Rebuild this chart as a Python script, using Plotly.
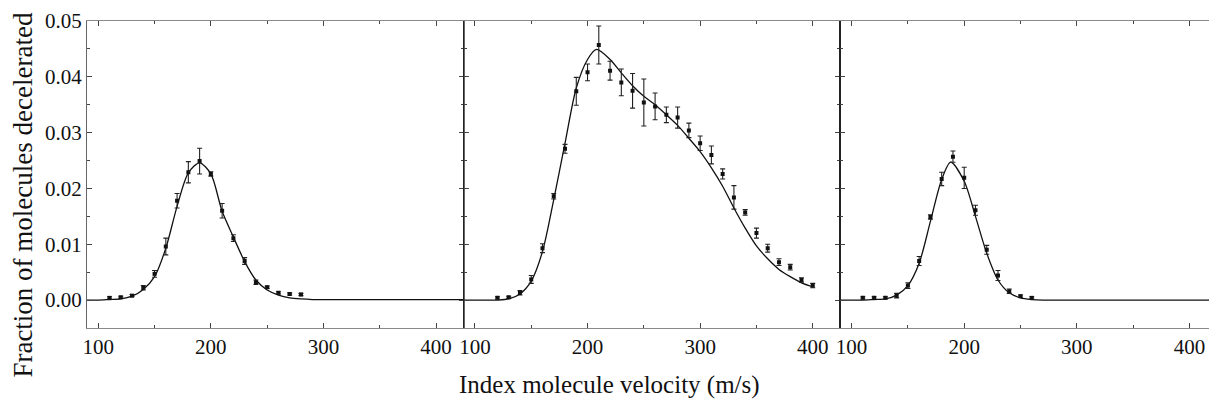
import plotly.graph_objects as go

# panel 1 (left)
v1 = [110, 120, 130, 140, 150, 160, 170, 180, 190, 200, 210, 220, 230, 240, 250, 260, 270, 280]
f1 = [0.0004, 0.0005, 0.0008, 0.0022, 0.0047, 0.0096, 0.0178, 0.0229, 0.0249, 0.0226,
      0.0160, 0.0111, 0.0070, 0.0032, 0.0023, 0.0013, 0.0011, 0.0010]
e1 = [0.0002, 0.0002, 0.0002, 0.0004, 0.0006, 0.0015, 0.0013, 0.0019, 0.0023, 0.0004,
      0.0013, 0.0006, 0.0006, 0.0004, 0.0002, 0.0002, 0.0002, 0.0002]
fit1_v = [90, 100, 110, 120, 130, 140, 150, 160, 170, 180, 190, 200, 210, 220, 230, 240,
          250, 260, 270, 280, 290, 300, 350, 400, 425]
fit1_f = [0.0, 0.0, 0.0001, 0.0002, 0.0007, 0.0019, 0.0042, 0.0093, 0.0168, 0.0228, 0.0246,
          0.0226, 0.0159, 0.0113, 0.0069, 0.0036, 0.0018, 0.0009, 0.0004, 0.0002, 0.0001,
          0.0001, 0.0001, 0.0001, 0.0001]

# panel 2 (middle)
v2 = [120, 130, 140, 150, 160, 170, 180, 190, 200, 210, 220, 230, 240, 250, 260, 270, 280,
      290, 300, 310, 320, 330, 340, 350, 360, 370, 380, 390, 400]
f2 = [0.0004, 0.0005, 0.0013, 0.0037, 0.0093, 0.0186, 0.0271, 0.0374, 0.0408, 0.0457, 0.0411,
      0.0390, 0.0375, 0.0354, 0.0347, 0.0332, 0.0327, 0.0304, 0.0281, 0.0260, 0.0226, 0.0184,
      0.0157, 0.0120, 0.0093, 0.0068, 0.0059, 0.0036, 0.0026]
e2 = [0.0002, 0.0002, 0.0004, 0.0007, 0.0008, 0.0005, 0.0008, 0.0025, 0.0015, 0.0034, 0.0017,
      0.0024, 0.0031, 0.0042, 0.0024, 0.0014, 0.0019, 0.0013, 0.0013, 0.0016, 0.0009, 0.0021,
      0.0005, 0.0009, 0.0007, 0.0006, 0.0005, 0.0004, 0.0004]
fit2_v = [90, 100, 110, 120, 130, 140, 150, 160, 170, 180, 190, 200, 208, 220, 230, 240, 250,
          260, 270, 280, 290, 300, 310, 320, 330, 340, 350, 360, 370, 380, 390, 400]
fit2_f = [0.0, 0.0, 0.0, 0.0, 0.0002, 0.0011, 0.0034, 0.0087, 0.0180, 0.0281, 0.0380, 0.0431,
          0.0449, 0.0431, 0.0407, 0.0384, 0.0365, 0.0350, 0.0332, 0.0313, 0.0290, 0.0266,
          0.0237, 0.0204, 0.0165, 0.0129, 0.0097, 0.0074, 0.0055, 0.0042, 0.0031, 0.0024]

# panel 3 (right)
v3 = [110, 120, 130, 140, 150, 160, 170, 180, 190, 200, 210, 220, 230, 240, 250, 260]
f3 = [0.0004, 0.0004, 0.0004, 0.0008, 0.0026, 0.0070, 0.0149, 0.0217, 0.0257, 0.0219, 0.0161,
      0.0090, 0.0044, 0.0016, 0.0007, 0.0004]
e3 = [0.0002, 0.0002, 0.0002, 0.0004, 0.0005, 0.0008, 0.0004, 0.0012, 0.0010, 0.0019, 0.0009,
      0.0008, 0.0009, 0.0004, 0.0002, 0.0002]
fit3_v = [90, 100, 110, 120, 130, 140, 150, 160, 170, 180, 188, 200, 210, 220, 230, 240, 250,
          260, 270, 280, 300, 350, 400, 425]
fit3_f = [0.0, 0.0, 0.0, 0.0001, 0.0002, 0.0009, 0.0026, 0.0066, 0.0141, 0.0216, 0.0247, 0.0213,
          0.0150, 0.0084, 0.0036, 0.0013, 0.0004, 0.0001, 0.0, 0.0, 0.0, 0.0, 0.0, 0.0]

panels = [(v1, f1, e1, fit1_v, fit1_f), (v2, f2, e2, fit2_v, fit2_f), (v3, f3, e3, fit3_v, fit3_f)]

FONT = "Liberation Serif"

fig = go.Figure()
for i, (v, f, e, fv, ff) in enumerate(panels):
    suffix = "" if i == 0 else str(i + 1)
    fig.add_trace(go.Scatter(
        x=fv, y=ff, mode="lines", xaxis="x" + suffix, yaxis="y" + suffix,
        line={"color": "#111111", "width": 1.3, "shape": "spline", "smoothing": 0.8},
        showlegend=False, hoverinfo="skip"))
    fig.add_trace(go.Scatter(
        x=v, y=f, mode="markers", xaxis="x" + suffix, yaxis="y" + suffix,
        marker={"symbol": "square", "size": 4, "color": "#111111"},
        error_y={"type": "data", "array": e, "width": 2.5, "thickness": 1.1, "color": "#222222"},
        showlegend=False))

# the page body adds an 8px margin, so the figure is 8px smaller and margins shifted
layout = {
    "width": 1209,
    "height": 399,
    "margin": {"l": 79, "r": 0, "t": 13, "b": 79, "autoexpand": False},
    "plot_bgcolor": "white",
    "paper_bgcolor": "white",
    "font": {"family": FONT, "color": "#111111", "size": 21},
    "annotations": [
        {"text": "Index molecule velocity (m/s)", "xref": "paper", "yref": "paper",
         "x": 0.462, "y": -0.186, "xanchor": "center", "yanchor": "middle",
         "showarrow": False, "font": {"family": FONT, "size": 25, "color": "#111111"}},
        {"text": "Fraction of molecules decelerated", "xref": "paper", "yref": "paper",
         "x": -0.0565, "y": 0.435, "xanchor": "center", "yanchor": "middle", "textangle": -90,
         "showarrow": False, "font": {"family": FONT, "size": 27, "color": "#111111"}},
    ],
}

domains = [[0, 1 / 3], [1 / 3, 2 / 3], [2 / 3, 1]]
tick_font = {"family": FONT, "size": 21, "color": "#111111"}
for i in range(3):
    suffix = "" if i == 0 else str(i + 1)
    layout["xaxis" + suffix] = {
        "domain": domains[i], "anchor": "y" + suffix, "range": [90, 424.5], "automargin": False,
        "tickvals": [100, 200, 300, 400], "ticks": "inside", "ticklen": 5, "tickcolor": "#444444",
        "minor": {"tickvals": [150, 250, 350], "ticks": "inside", "ticklen": 3, "tickcolor": "#444444"},
        "showline": True, "linecolor": "#8a8a8a", "linewidth": 1.4, "mirror": "ticks",
        "showgrid": False, "zeroline": False, "tickfont": tick_font,
    }
    layout["yaxis" + suffix] = {
        "domain": [0, 1], "anchor": "x" + suffix, "range": [-0.005, 0.05], "automargin": False,
        "tickvals": [0, 0.01, 0.02, 0.03, 0.04, 0.05], "tickformat": ".2f",
        "showticklabels": i == 0, "ticks": "inside", "ticklen": 5, "tickcolor": "#444444",
        "minor": {"tickvals": [0.005, 0.015, 0.025, 0.035, 0.045], "ticks": "inside",
                  "ticklen": 3, "tickcolor": "#444444"},
        "showline": True, "linecolor": "#666666" if i == 0 else "#222222", "linewidth": 1,
        "mirror": "ticks", "showgrid": False, "zeroline": False, "tickfont": tick_font,
    }

fig.update_layout(layout)
fig.write_html("out.html")
